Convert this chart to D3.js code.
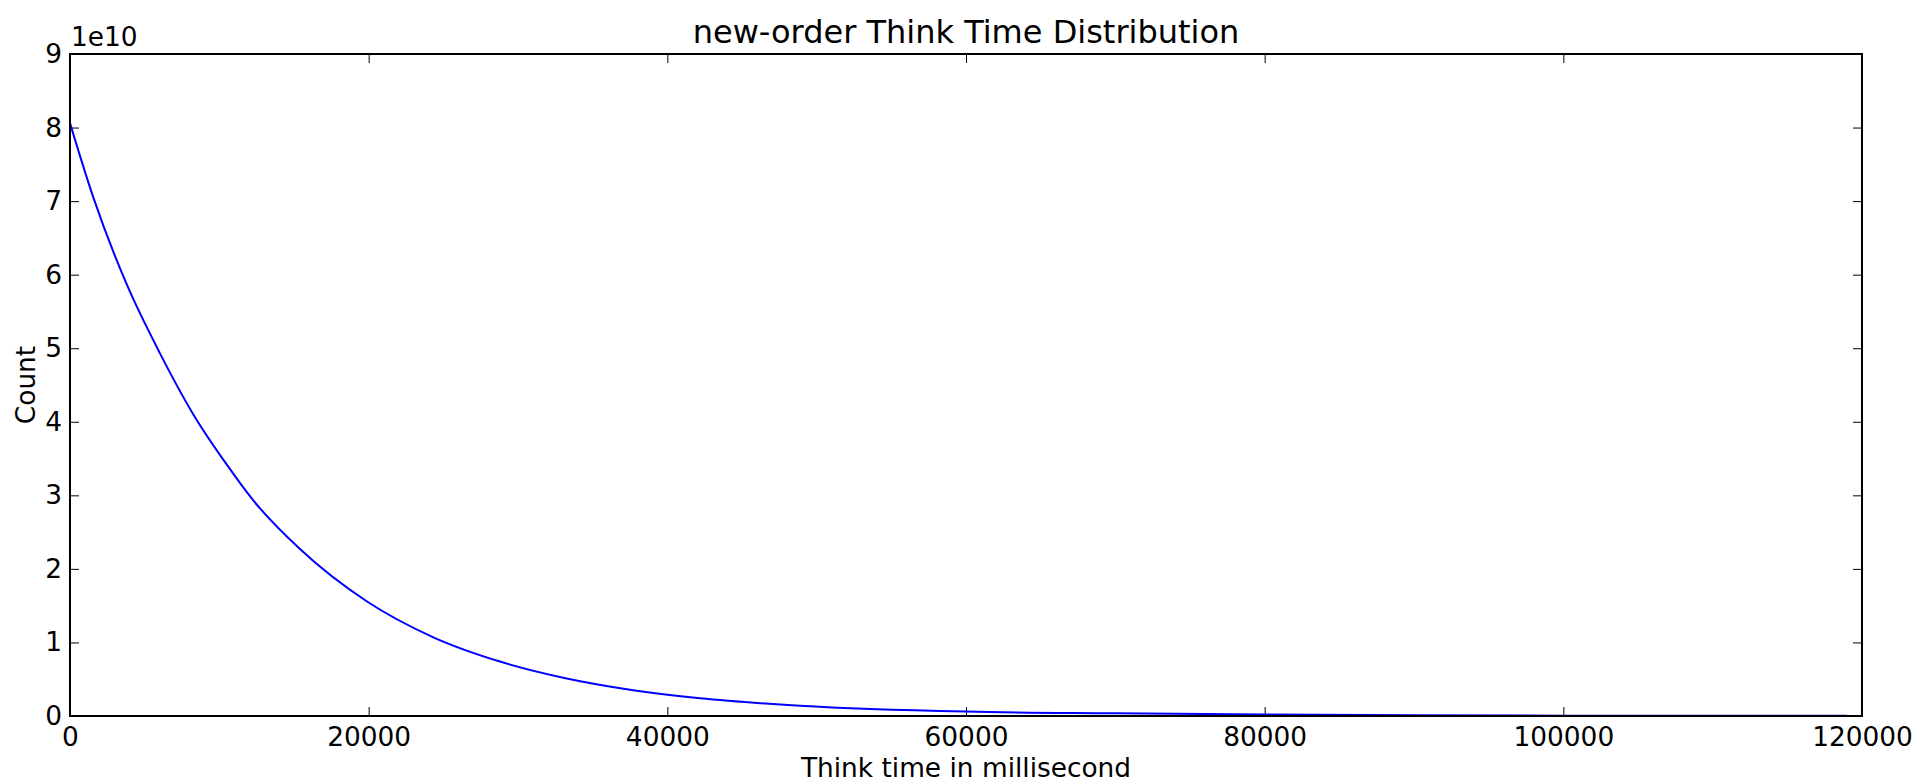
<!DOCTYPE html>
<html>
<head>
<meta charset="utf-8">
<script src="https://cdn.jsdelivr.net/npm/d3@7"></script>
<style>
	body { margin: 0; background: #fff; }
	text { font-family: "DejaVu Sans", sans-serif; fill: #000; }
</style>
</head>
<body>
<div id="chart"></div>
<script>
// think time (ms) and count
const thinkTime = [0, 1561, 3795, 6026, 8259, 10490, 12277, 15400, 19866, 24330, 28793,
	33260, 37720, 42190, 48880, 60000, 70000, 80000, 90000, 100000, 110000, 119000];
const countValues = [8.06e10, 7.05e10, 5.87e10, 4.93e10, 4.10e10, 3.42e10, 2.93e10, 2.27e10,
	1.56e10, 1.07e10, 0.74e10, 0.51e10, 0.35e10, 0.24e10, 0.14e10, 0.06e10, 0.037e10,
	0.02e10, 0.01e10, 0.005e10, 0.003e10, 0.002e10];
const xTicks = [0, 20000, 40000, 60000, 80000, 100000, 120000];
const yTicks = [0, 1e10, 2e10, 3e10, 4e10, 5e10, 6e10, 7e10, 8e10, 9e10];

const W = 1921, H = 782;
const margin = {left: 70, right: 59, top: 54, bottom: 66};
const w = W - margin.left - margin.right;
const h = H - margin.top - margin.bottom;

const svg = d3.select("#chart")
	.append("svg")
	.attr("width", W)
	.attr("height", H);

const g = svg.append("g")
	.attr("transform", "translate(" + margin.left + "," + margin.top + ")");

const x = d3.scaleLinear().domain([0, 120000]).range([0, w]);
const y = d3.scaleLinear().domain([0, 9e10]).range([h, 0]);

const fontSize = 26.4;

// axes, ticks pointing inward like matplotlib
function styleAxis(sel) {
	sel.select(".domain").remove();
	sel.selectAll(".tick line").attr("stroke", "#000").attr("stroke-width", 1);
	sel.selectAll("text").style("font-size", fontSize + "px").attr("fill", "#000");
}

g.append("g")
	.attr("transform", "translate(0," + h + ")")
	.call(d3.axisBottom(x).tickValues(xTicks).tickSize(-9).tickPadding(11).tickFormat(d3.format("d")))
	.call(styleAxis);

g.append("g")
	.call(d3.axisTop(x).tickValues(xTicks).tickSize(-9).tickFormat(""))
	.call(styleAxis);

g.append("g")
	.call(d3.axisLeft(y).tickValues(yTicks).tickSize(-9).tickPadding(8).tickFormat(function (d) { return d / 1e10; }))
	.call(styleAxis);

g.append("g")
	.attr("transform", "translate(" + w + ",0)")
	.call(d3.axisRight(y).tickValues(yTicks).tickSize(-9).tickFormat(""))
	.call(styleAxis);

// the curve
const line = d3.line()
	.x(function (d) { return x(d[0]); })
	.y(function (d) { return y(d[1]); })
	.curve(d3.curveMonotoneX);

g.append("path")
	.datum(d3.zip(thinkTime, countValues))
	.attr("d", line)
	.attr("fill", "none")
	.attr("stroke", "#0000ff")
	.attr("stroke-width", 2);

// frame
g.append("rect")
	.attr("width", w)
	.attr("height", h)
	.attr("fill", "none")
	.attr("stroke", "#000")
	.attr("stroke-width", 2);

// texts
svg.append("text")
	.attr("x", margin.left + w / 2)
	.attr("y", 43)
	.attr("text-anchor", "middle")
	.style("font-size", "32px")
	.text("new-order Think Time Distribution");

svg.append("text")
	.attr("x", margin.left + 1)
	.attr("y", 46)
	.style("font-size", fontSize + "px")
	.text("1e10");

svg.append("text")
	.attr("x", margin.left + w / 2)
	.attr("y", 777)
	.attr("text-anchor", "middle")
	.style("font-size", fontSize + "px")
	.text("Think time in millisecond");

svg.append("text")
	.attr("transform", "translate(35," + (margin.top + h / 2) + ") rotate(-90)")
	.attr("text-anchor", "middle")
	.style("font-size", fontSize + "px")
	.text("Count");
</script>
</body>
</html>
